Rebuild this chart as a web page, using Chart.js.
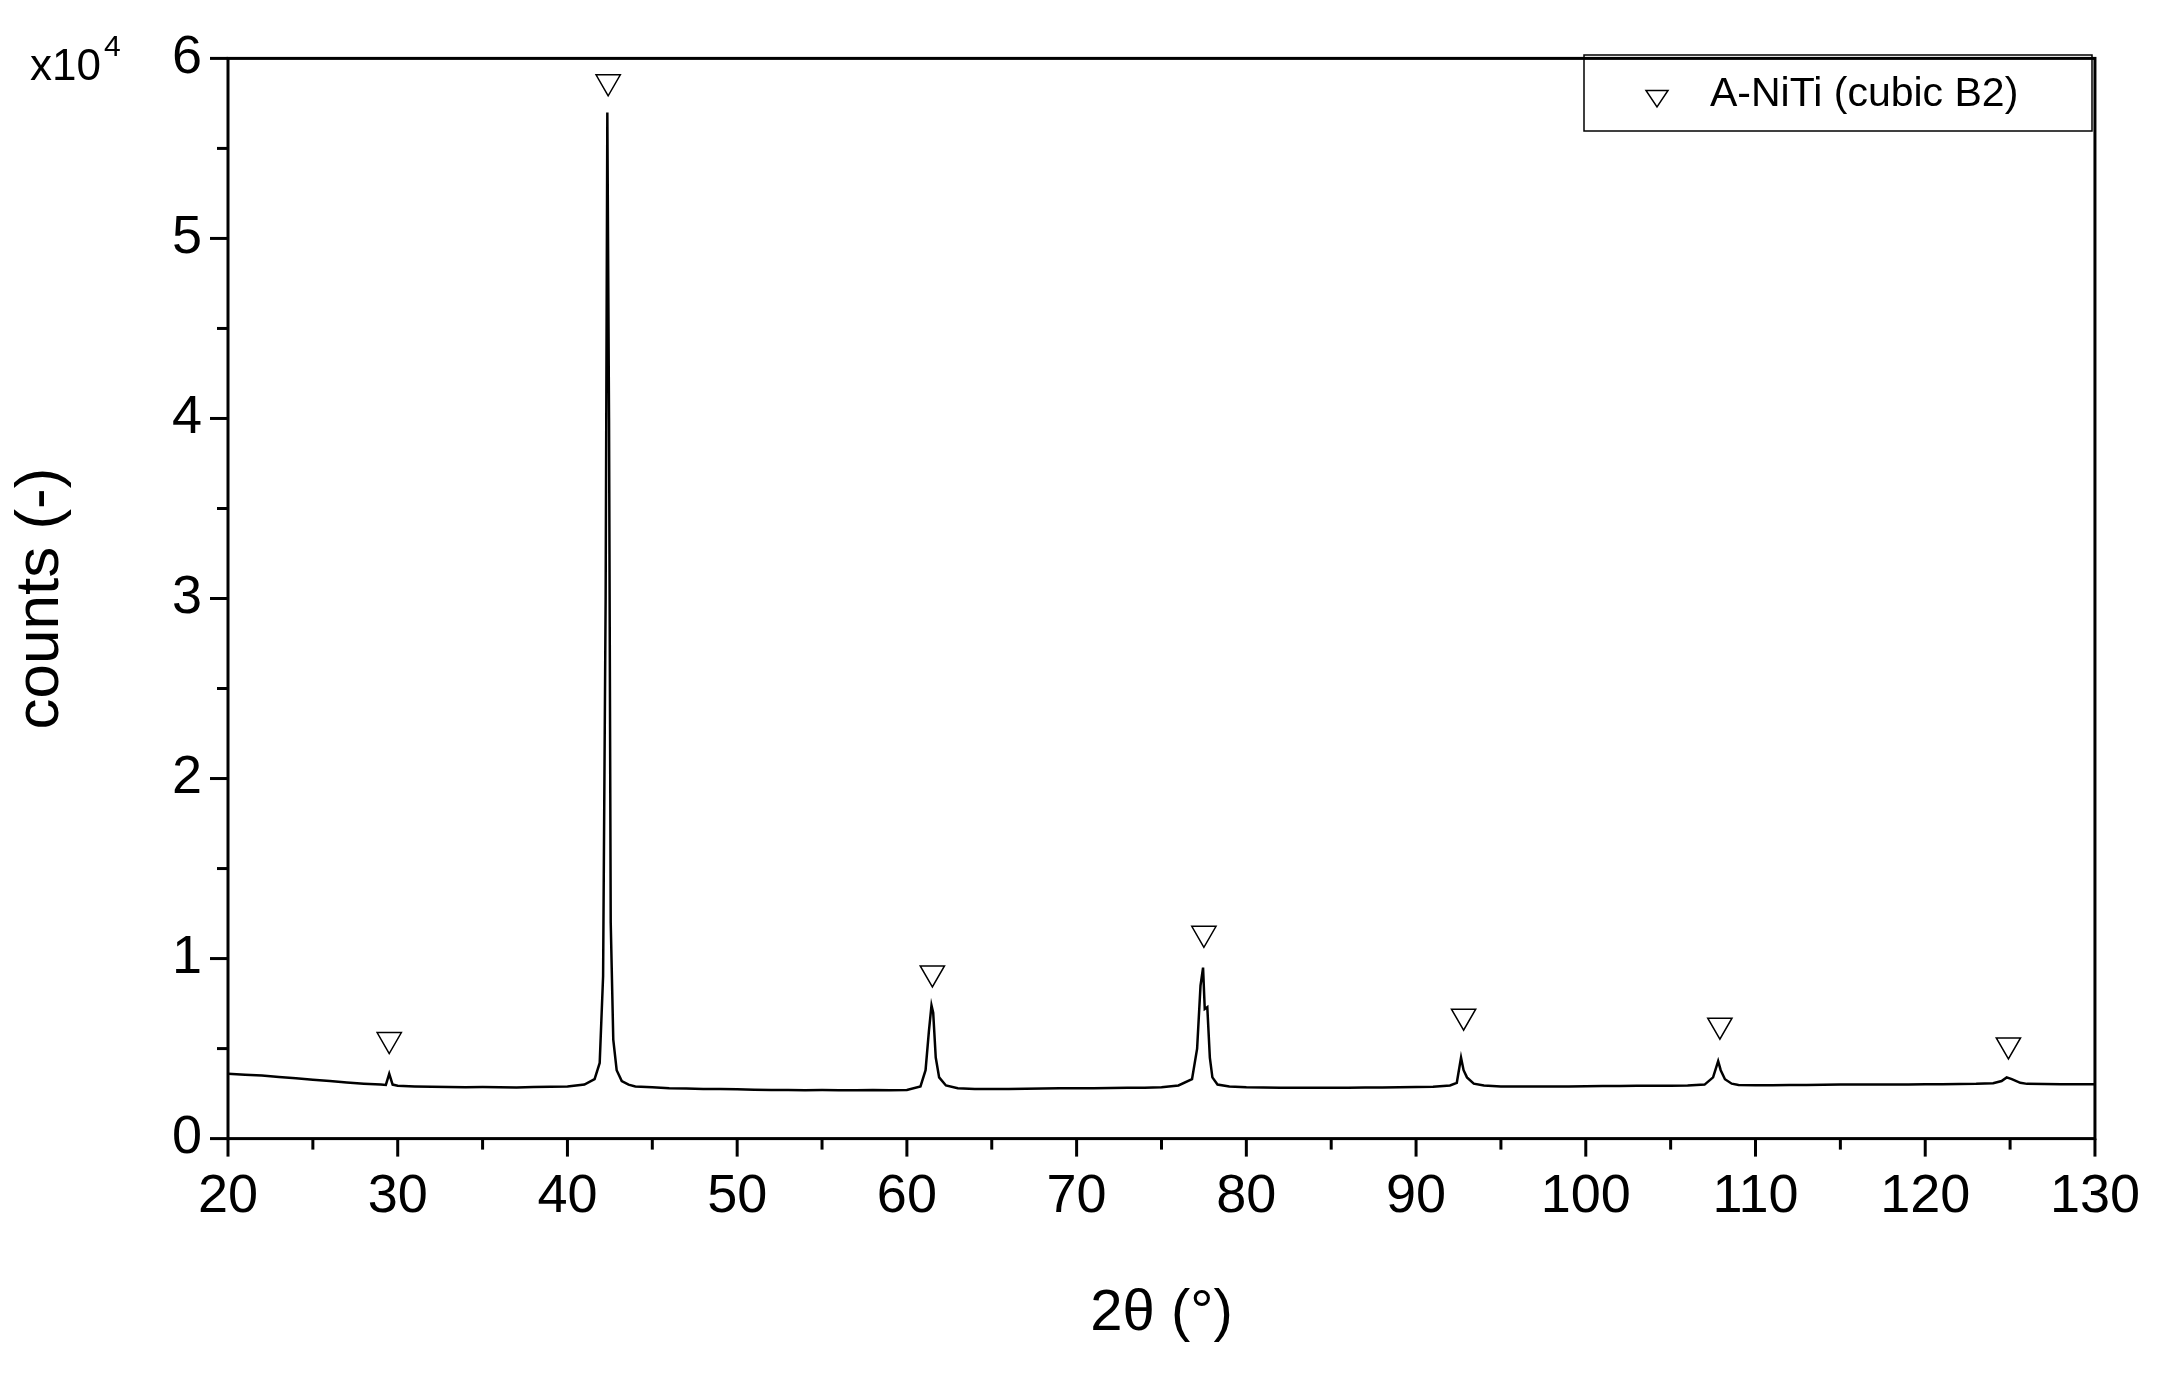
<!DOCTYPE html>
<html><head><meta charset="utf-8">
<script src="https://cdn.jsdelivr.net/npm/chart.js@4/dist/chart.umd.min.js"></script>
<style>html,body{margin:0;padding:0;background:#fff}#w{width:2166px;height:1393px}</style>
</head><body><div id="w"><canvas id="c"></canvas></div>
<script>
const twoTheta = [
 20,21,22,23,24,25,26,27,28,29,29.3,29.5,29.7,30,
 31,32,33,34,35,36,37,38,39,40,41,
 41.6,41.9,42.1,42.25,42.35,42.45,42.55,42.7,42.9,43.2,43.6,44,
 45,46,47,48,49,50,51,52,53,54,55,56,57,58,59,60,
 60.8,61.1,61.3,61.45,61.55,61.7,61.9,62.3,63,
 64,65,66,67,68,69,70,71,72,73,74,75,76,
 76.8,77.1,77.3,77.45,77.55,77.7,77.85,78.0,78.3,79,
 80,81,82,83,84,85,86,87,88,89,90,91,92,
 92.4,92.65,92.8,93.0,93.4,94,
 95,96,97,98,99,100,101,102,103,104,105,106,107,
 107.5,107.8,107.95,108.2,108.6,109,
 110,111,112,113,114,115,116,117,118,119,120,121,122,123,124,
 124.5,124.8,125.1,125.6,126,
 127,128,129,130];
const counts = [
 3600,3550,3500,3420,3350,3270,3200,3120,3050,3000,2980,3600,3000,2940,
 2900,2880,2870,2850,2860,2850,2840,2860,2880,2900,3000,
 3300,4200,9000,30000,57000,40000,12000,5500,3800,3200,3000,2900,
 2850,2800,2780,2760,2750,2740,2720,2700,2700,2690,2700,2690,2680,2700,2690,2700,
 2900,3800,6000,7400,7000,4500,3400,2950,2800,
 2760,2750,2760,2770,2780,2790,2800,2800,2810,2820,2830,2850,2950,
 3300,5000,8500,9500,7200,7300,4500,3400,3000,2900,
 2850,2840,2830,2830,2820,2820,2830,2840,2840,2850,2860,2880,2950,
 3100,4500,3800,3400,3050,2950,
 2900,2900,2890,2900,2900,2910,2920,2920,2930,2930,2940,2950,3000,
 3400,4300,3800,3300,3050,2980,
 2960,2970,2980,2980,2990,3000,3000,3000,3000,3010,3020,3020,3030,3040,3080,
 3200,3400,3300,3100,3040,
 3030,3020,3020,3020];
const markerX = [29.5,42.4,61.5,77.5,92.8,107.9,124.9];
const markerY = [5500,58700,9200,11400,6800,6300,5200];
const xTicks = [20,30,40,50,60,70,80,90,100,110,120,130];
const yTicks = [0,1,2,3,4,5,6];
const seriesName = 'A-NiTi (cubic B2)';

const F = 'Arial, "Liberation Sans", sans-serif';
function tri(c,x,y,r){c.beginPath();c.moveTo(x-r,y-r*0.6);c.lineTo(x+r,y-r*0.6);c.lineTo(x,y+r*0.9);c.closePath();c.stroke();}
const deco = {
  id:'deco',
  afterDraw(ch){
    const c=ch.ctx, a=ch.chartArea, xs=ch.scales.x, ys=ch.scales.y;
    c.save(); c.strokeStyle='#000'; c.lineWidth=3;
    c.strokeRect(a.left,a.top,a.right-a.left,a.bottom-a.top);
    for(let v=20; v<=130; v+=5){const p=xs.getPixelForValue(v);const L=v%10===0?18:11;c.beginPath();c.moveTo(p,a.bottom);c.lineTo(p,a.bottom+L);c.stroke();}
    for(let v=0; v<=60000; v+=5000){const p=ys.getPixelForValue(v);const L=v%10000===0?18:11;c.beginPath();c.moveTo(a.left,p);c.lineTo(a.left-L,p);c.stroke();}
    c.fillStyle='#000'; c.font='44px '+F; c.textBaseline='alphabetic'; c.textAlign='left';
    c.fillText('x10',30,80);
    c.font='30px '+F; c.fillText('4',104,56);
    // legend
    c.lineWidth=1.5; c.strokeRect(1584,55,508,76);
    c.lineWidth=1.5; tri(c,1657,97,11);
    c.font='41px '+F; c.textBaseline='middle'; c.fillText(seriesName,1710,95);
    c.restore();
  }
};
new Chart(document.getElementById('c'),{
  type:'line',
  data:{datasets:[
    {label:'xrd',data:twoTheta.map((x,i)=>({x,y:counts[i]})),borderColor:'#000',borderWidth:2.5,pointRadius:0,tension:0},
    {label:seriesName,data:markerX.map((x,i)=>({x,y:markerY[i]})),showLine:false,pointStyle:'triangle',rotation:180,pointRadius:14,borderColor:'#000',borderWidth:1.5,backgroundColor:'#fff'}
  ]},
  options:{
    responsive:true,maintainAspectRatio:false,animation:false,
    layout:{padding:{left:0,right:65,top:46,bottom:40}},
    plugins:{legend:{display:false},tooltip:{enabled:false}},
    scales:{
      x:{type:'linear',min:20,max:130,grid:{display:false,drawTicks:false},border:{display:false},
         afterBuildTicks:s=>{s.ticks=xTicks.map(v=>({value:v}))},
         ticks:{color:'#000',font:{size:54,family:F},padding:26,maxRotation:0},
         title:{display:true,text:'2θ (°)',color:'#000',font:{size:58,family:F},padding:{top:24}}},
      y:{min:0,max:60000,grid:{display:false,drawTicks:false},border:{display:false},
         afterBuildTicks:s=>{s.ticks=yTicks.map(v=>({value:v*10000}))},
         ticks:{color:'#000',font:{size:54,family:F},padding:26,callback:v=>v/10000},
         title:{display:true,text:'counts (-)',color:'#000',font:{size:62,family:F},padding:{bottom:30}},
         afterFit:s=>{s.width=228}}
    }
  },
  plugins:[deco]
});
</script></body></html>
